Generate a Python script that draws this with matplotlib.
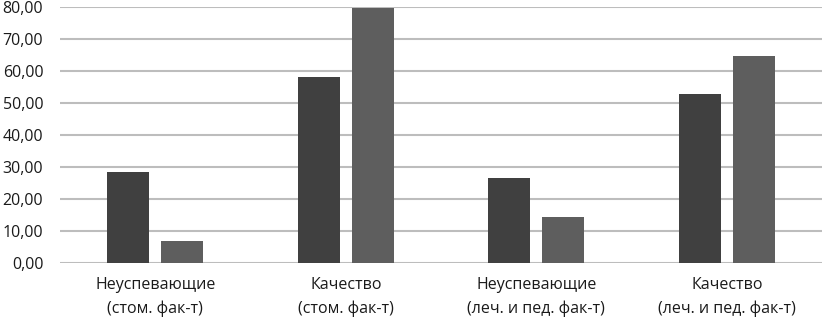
import numpy as np
import matplotlib.pyplot as plt
from matplotlib.ticker import FuncFormatter

categories = ['Неуспевающие\n(стом. фак-т)', 'Качество\n(стом. фак-т)',
              'Неуспевающие\n(леч. и пед. фак-т)', 'Качество\n(леч. и пед. фак-т)']
series_a = [28.4, 58.1, 26.6, 52.8]
series_b = [6.9, 79.7, 14.4, 64.7]

plt.rcParams['font.family'] = ['Open Sans', 'DejaVu Sans']

fig = plt.figure(figsize=(8.22, 3.21), dpi=100)
ax = fig.add_axes([0.073, 0.181, 0.927, 0.797])

x = np.arange(len(categories))
w = 0.22
ax.bar(x - 0.142, series_a, width=w, color='#404040', zorder=3)
ax.bar(x + 0.142, series_b, width=w, color='#5e5e5e', zorder=3)

ax.set_xlim(-0.5, 3.5)
ax.set_ylim(0, 80)
ax.set_yticks(np.arange(0, 81, 10))
ax.yaxis.set_major_formatter(FuncFormatter(lambda v, p: f'{v:.2f}'.replace('.', ',')))
ax.grid(axis='y', color='#bdbdbd', linewidth=1.5, zorder=0)
ax.set_xticks(x)
ax.set_xticklabels(categories, linespacing=1.6)
for s in ax.spines.values():
    s.set_visible(False)
ax.tick_params(length=0, labelsize=11.5, colors='#1a1a1a')
ax.tick_params(axis='y', pad=12)
ax.tick_params(axis='x', pad=10)

fig.savefig('out.png', dpi=100)
